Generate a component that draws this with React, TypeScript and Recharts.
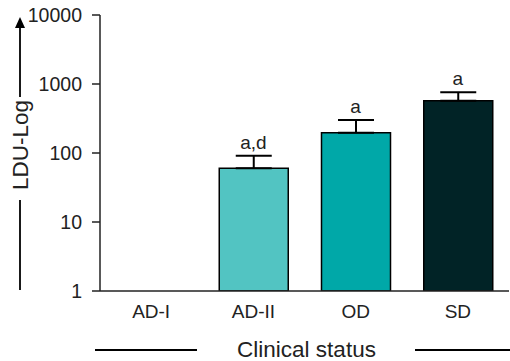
import React from 'react';
import { ComposedChart, Bar, XAxis, YAxis, ErrorBar, Line, LabelList, Cell } from 'recharts';

const categories = ['AD-I', 'AD-II', 'OD', 'SD'];
const means: (number | null)[] = [null, 60, 197, 573];
const upperErrors: (number | null)[] = [null, 31, 104, 186];
const letters = ['', 'a,d', 'a', 'a'];
const colors = ['#ffffff', '#52c4c2', '#00a8a8', '#012326'];
const yTicks = [1, 10, 100, 1000, 10000];

const data = categories.map((c, i) => ({
  name: c,
  value: means[i],
  err: upperErrors[i] == null ? null : [0, upperErrors[i] as number],
  top: means[i] == null ? null : (means[i] as number) + (upperErrors[i] as number),
  sig: letters[i],
}));

const FONT = '"Liberation Sans", Arial, sans-serif';

const YTitle = (props: any) => {
  const vb = props.viewBox || { x: 0, y: 15, width: 100, height: 276 };
  const cx = 20;
  const bottom = vb.y + vb.height - 1;
  const cy = 145;
  return (
    <g>
      <line x1={cx} y1={bottom} x2={cx} y2={cy + 55} stroke="#000" strokeWidth={1.8} />
      <line x1={cx} y1={cy - 48} x2={cx} y2={27} stroke="#000" strokeWidth={1.8} />
      <path d={`M${cx - 5},28 L${cx + 5},28 L${cx},17 Z`} fill="#000" />
      <text x={cx} y={cy} transform={`rotate(-90 ${cx} ${cy})`} textAnchor="middle" dominantBaseline="central" fontSize={22.5} fontFamily={FONT} fill="#222">LDU-Log</text>
    </g>
  );
};

const XTitle = (props: any) => {
  const vb = props.viewBox || { x: 100, y: 291, width: 409, height: 70 };
  const cx = vb.x + vb.width / 2 + 2;
  const y = 349;
  return (
    <g>
      <line x1={95} y1={350} x2={197} y2={350} stroke="#000" strokeWidth={1.8} />
      <line x1={415} y1={350} x2={510} y2={350} stroke="#000" strokeWidth={1.8} />
      <text x={cx} y={y} textAnchor="middle" dominantBaseline="central" fontSize={22.5} fontFamily={FONT} fill="#222">Clinical status</text>
    </g>
  );
};

export default function App() {
  return (
    <div style={{ position: 'absolute', left: 0, top: 0, width: 510, height: 361, background: '#fff' }}>
      <ComposedChart width={510} height={361} data={data} margin={{ top: 15, right: 1, bottom: 0, left: 0 }}>
        <XAxis
          dataKey="name"
          height={70}
          tickLine={false}
          tickMargin={8}
          axisLine={{ stroke: '#222', strokeWidth: 1.5 }}
          tick={{ fontSize: 19, fontFamily: FONT, fill: '#222' }}
          label={<XTitle />}
        />
        <XAxis xAxisId="top" dataKey="name" orientation="top" height={0} tick={false} tickLine={false} axisLine={{ stroke: '#333', strokeWidth: 1.5 }} />
        <YAxis
          scale="log"
          domain={[1, 10000]}
          ticks={yTicks}
          allowDataOverflow
          width={100}
          tickSize={8}
          tickMargin={10}
          interval={0}
          axisLine={{ stroke: '#222', strokeWidth: 1.5 }}
          tickLine={{ stroke: '#222', strokeWidth: 1.5 }}
          tick={{ fontSize: 19.5, fontFamily: FONT, fill: '#222' }}
          label={<YTitle />}
        />
        <YAxis yAxisId="right" orientation="right" width={0} tick={false} tickLine={false} axisLine={{ stroke: '#666', strokeWidth: 1.5 }} />
        <Bar dataKey="value" barSize={69} stroke="#000" strokeWidth={1.5} isAnimationActive={false}>
          {data.map((d, i) => (
            <Cell key={i} fill={colors[i]} />
          ))}
          <ErrorBar dataKey="err" width={18} stroke="#000" strokeWidth={2} direction="y" />
        </Bar>
        <Line dataKey="top" stroke="none" dot={false} activeDot={false} isAnimationActive={false} legendType="none">
          <LabelList dataKey="sig" position="top" offset={7} style={{ fontSize: 19, fontFamily: FONT, fill: '#222' }} />
        </Line>
      </ComposedChart>
    </div>
  );
}
